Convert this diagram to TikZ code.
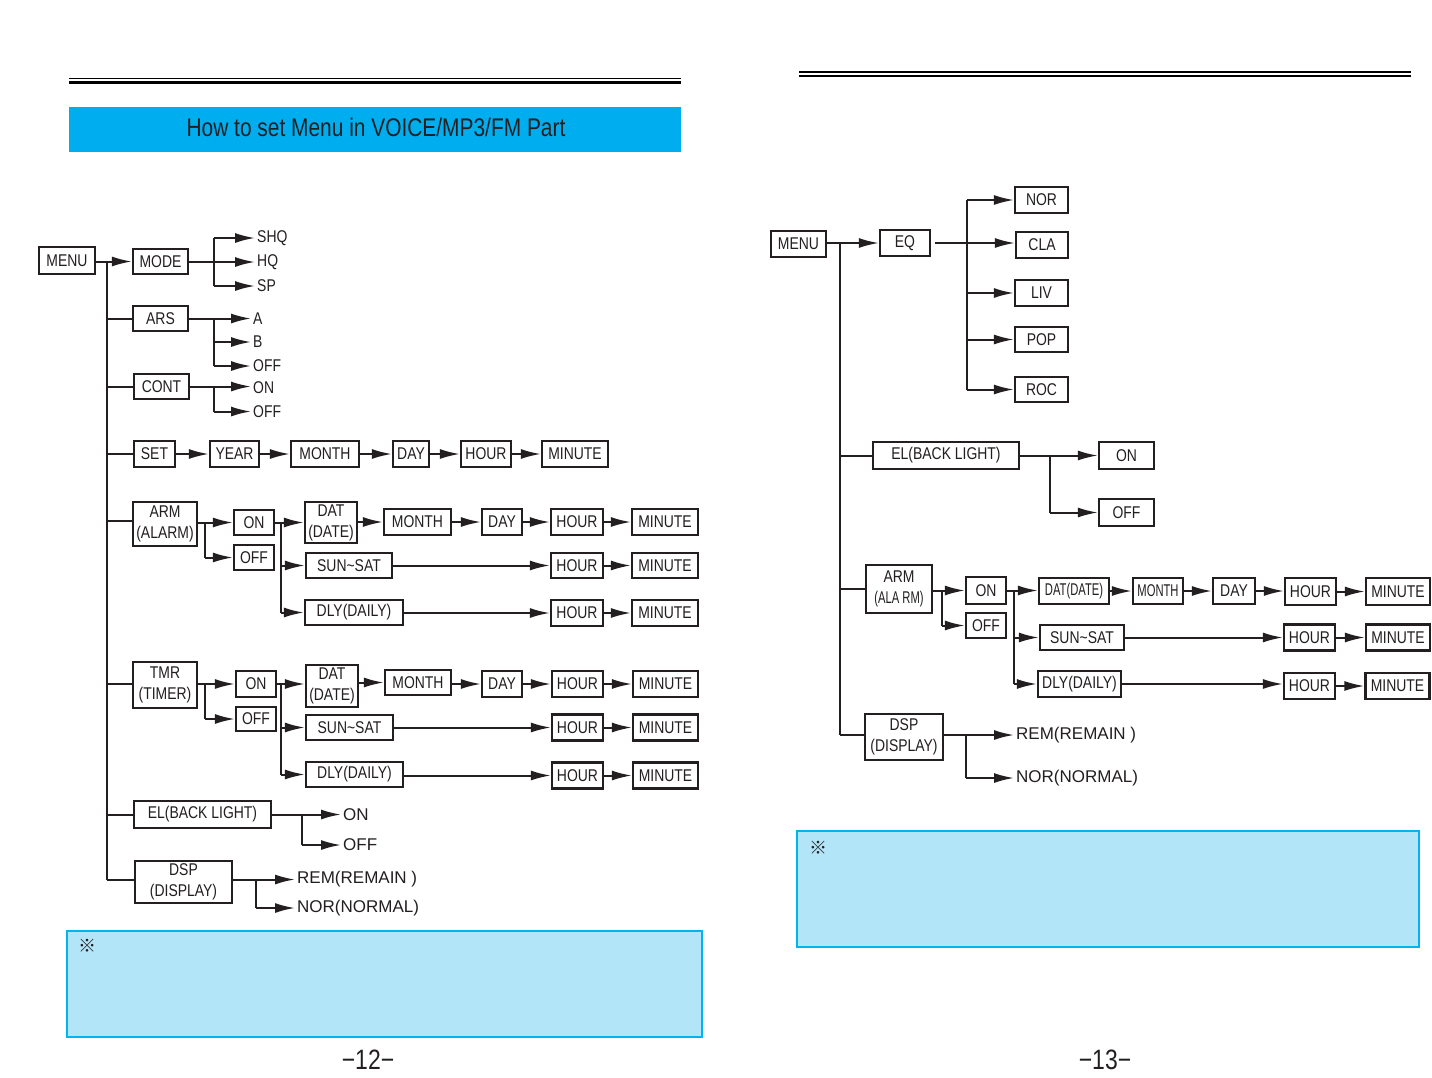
\documentclass[tikz,border=0pt]{standalone}
\usepackage{fontspec}
\setmainfont[FakeStretch=0.82]{Liberation Sans}
\newfontfamily\narrowf[FakeStretch=0.66]{Liberation Sans}
\newfontfamily\widef[FakeStretch=1.0]{Liberation Sans}
\newfontfamily\cjk{Noto Sans CJK SC}
\usetikzlibrary{arrows.meta}
\definecolor{banner}{HTML}{00AEEF}
\definecolor{notefill}{HTML}{B3E5F9}
\definecolor{noteline}{HTML}{00B4F0}
\definecolor{ink}{HTML}{231F20}
\begin{document}
\begin{tikzpicture}[x=1pt,y=-1pt,
  bx/.style={draw=ink, line width=2.2pt, inner sep=0pt, text=ink, font=\fontsize{17}{21}\selectfont, align=center, minimum height=26pt},
  nbx/.style={bx, font=\narrowf\fontsize{17}{21}\selectfont},
  lbl/.style={anchor=west, inner sep=2pt, text=ink, font=\fontsize{17}{21}\selectfont},
  wlbl/.style={lbl, font=\widef\fontsize{17}{21}\selectfont},
  ln/.style={draw=ink, line width=2pt},
  arr/.style={ln, -{Latex[length=20pt,width=10pt]}},
  rule/.style={draw=black}
]
\useasboundingbox[fill=white] (0,0) rectangle (1432,1077);

% ---------- header rules ----------
\draw[rule, line width=1.2pt] (69,78.3) -- (681,78.3);
\draw[rule, line width=2.6pt] (69,82.5) -- (681,82.5);
\draw[rule, line width=1.2pt] (799,72) -- (1411,72);
\draw[rule, line width=2.6pt] (799,76) -- (1411,76);

% banner
\node[fill=banner, minimum width=612pt, minimum height=45pt, inner sep=0pt] (banner) at (375,129.5) {};
\node[inner sep=0pt, font=\fontsize{25.5}{27}\selectfont, text=ink] (title) at (376,127)
      {How to set Menu in VOICE/MP3/FM Part};

% ================= LEFT PAGE =================
\node[bx, minimum width=56pt, minimum height=27pt] (menuL) at (67,260.5) {MENU};
\coordinate (trunkL) at (107,261);
\coordinate (trunkLb) at (107,880);
\draw[ln] (trunkL) -- (trunkLb);

\node[bx, minimum width=55pt, minimum height=25pt] (modeL) at (160.5,261.5) {MODE};
\draw[arr] (menuL.east |- modeL.west) -- (modeL.west);
\node[lbl] (shq) at (255,238) {SHQ};
\node[lbl] (hq)  at (255,262) {HQ};
\node[lbl] (sp)  at (255,286) {SP};
\coordinate (jm) at (214,261.5);
\draw[ln] (modeL.east) -- (jm);
\draw[ln] (jm |- shq) -- (jm |- sp);
\draw[arr] (jm |- shq) -- (shq.west);
\draw[arr] (jm |- hq) -- (hq.west);
\draw[arr] (jm |- sp) -- (sp.west);

\node[bx, minimum width=55pt, minimum height=25pt] (arsL) at (160.5,318.5) {ARS};
\draw[ln] (arsL.west -| trunkL) -- (arsL.west);
\node[lbl] (ra) at (251,318.5) {A};
\node[lbl] (rb) at (251,342) {B};
\node[lbl] (roff) at (251,366) {OFF};
\coordinate (jr) at (214,318.5);
\draw[ln] (arsL.east) -- (jr);
\draw[ln] (jr) -- (jr |- roff);
\draw[arr] (jr) -- (ra.west);
\draw[arr] (jr |- rb) -- (rb.west);
\draw[arr] (jr |- roff) -- (roff.west);

\node[bx, minimum width=55pt, minimum height=25pt] (contL) at (161.5,386.5) {CONT};
\draw[ln] (contL.west -| trunkL) -- (contL.west);
\node[lbl] (con) at (251,387.5) {ON};
\node[lbl] (coff) at (251,411.5) {OFF};
\coordinate (jc) at (214,386.5);
\draw[ln] (contL.east) -- (jc);
\draw[ln] (jc) -- (jc |- coff);
\draw[arr] (jc) -- (con.west |- jc);
\draw[arr] (jc |- coff) -- (coff.west);

% SET row
\node[bx, minimum width=41pt] (setL) at (154.5,454) {SET};
\node[bx, minimum width=49pt] (yearL) at (234.5,454) {YEAR};
\node[bx, minimum width=68pt] (monthL) at (325,454) {MONTH};
\node[bx, minimum width=36pt] (dayL) at (411,454) {DAY};
\node[bx, minimum width=50pt] (hourL) at (486,454) {HOUR};
\node[bx, minimum width=66pt] (minL) at (575,454) {MINUTE};
\draw[ln] (setL.west -| trunkL) -- (setL.west);
\draw[arr] (setL) -- (yearL);
\draw[arr] (yearL) -- (monthL);
\draw[arr] (monthL) -- (dayL);
\draw[arr] (dayL) -- (hourL);
\draw[arr] (hourL) -- (minL);

% ARM block
\node[bx, minimum width=64pt, minimum height=44pt] (armL) at (165,524) {ARM\\(ALARM)};
\draw[ln] (107,521) -- (armL.west |- 0,521);
\node[bx, minimum width=40pt, minimum height=25pt] (aonL) at (254,522.5) {ON};
\node[bx, minimum width=40pt, minimum height=25pt] (aoffL) at (254,557.5) {OFF};
\coordinate (jaL) at (205,522.5);
\draw[arr] (armL.east |- aonL.west) -- (aonL.west);
\draw[ln] (jaL) -- (jaL |- aoffL);
\draw[arr] (jaL |- aoffL) -- (aoffL.west);

\node[bx, minimum width=52pt, minimum height=41pt] (adatL) at (331,522.5) {DAT\\(DATE)};
\node[bx, minimum width=67pt] (amonL) at (417.5,522) {MONTH};
\node[bx, minimum width=40pt] (adayL) at (502,522) {DAY};
\node[bx, minimum width=52pt] (ahourL) at (577,522) {HOUR};
\node[bx, minimum width=66pt] (aminL) at (665,522) {MINUTE};
\node[bx, minimum width=86pt, minimum height=25pt] (asunL) at (349,565.5) {SUN\textasciitilde SAT};
\node[bx, minimum width=52pt, minimum height=25pt] (ahour2L) at (577,565.5) {HOUR};
\node[bx, minimum width=66pt, minimum height=25pt] (amin2L) at (665,565.5) {MINUTE};
\node[bx, minimum width=98pt, minimum height=25pt] (adlyL) at (354,612.5) {DLY(DAILY)};
\node[bx, minimum width=52pt] (ahour3L) at (577,613) {HOUR};
\node[bx, minimum width=66pt] (amin3L) at (665,613) {MINUTE};
\coordinate (jbL) at (281,522.5);
\draw[ln] (aonL.east) -- (jbL);
\draw[ln] (jbL) -- (jbL |- adlyL);
\draw[arr] (jbL) -- (adatL.west |- jbL);
\draw[arr] (jbL |- asunL) -- (asunL.west);
\draw[arr] (jbL |- adlyL) -- (adlyL.west);
\draw[arr] (adatL.east |- amonL) -- (amonL.west);
\draw[arr] (amonL) -- (adayL);
\draw[arr] (adayL) -- (ahourL);
\draw[arr] (ahourL) -- (aminL);
\draw[arr] (asunL) -- (ahour2L);
\draw[arr] (ahour2L) -- (amin2L);
\draw[arr] (adlyL.east |- ahour3L) -- (ahour3L.west);
\draw[arr] (ahour3L) -- (amin3L);

% TMR block
\node[bx, minimum width=64pt, minimum height=46pt] (tmrL) at (165,685) {TMR\\(TIMER)};
\draw[ln] (107,684) -- (tmrL.west |- 0,684);
\node[bx, minimum width=40pt] (tonL) at (256,684) {ON};
\node[bx, minimum width=40pt, minimum height=24pt] (toffL) at (256,719) {OFF};
\coordinate (jtL) at (205,684);
\draw[arr] (tmrL.east |- tonL.west) -- (tonL.west);
\draw[ln] (jtL) -- (jtL |- toffL);
\draw[arr] (jtL |- toffL) -- (toffL.west);

\node[bx, minimum width=52pt, minimum height=42pt] (tdatL) at (332,686) {DAT\\(DATE)};
\node[bx, minimum width=66pt, minimum height=25pt] (tmonL) at (418,682.5) {MONTH};
\node[bx, minimum width=40pt] (tdayL) at (502,684) {DAY};
\node[bx, minimum width=51pt] (thourL) at (577.5,684) {HOUR};
\node[bx, minimum width=65pt] (tminL) at (665.5,684) {MINUTE};
\node[bx, minimum width=87pt, minimum height=25pt] (tsunL) at (349.5,727.5) {SUN\textasciitilde SAT};
\node[bx, minimum width=51pt] (thour2L) at (577.5,727.5) {HOUR};
\node[bx, minimum width=65pt] (tmin2L) at (665.5,727.5) {MINUTE};
\node[bx, minimum width=97pt, minimum height=25pt] (tdlyL) at (354.5,774.5) {DLY(DAILY)};
\node[bx, minimum width=51pt] (thour3L) at (577.5,775.5) {HOUR};
\node[bx, minimum width=65pt] (tmin3L) at (665.5,775.5) {MINUTE};
\coordinate (jt2L) at (281,684);
\draw[ln] (tonL.east) -- (jt2L);
\draw[ln] (jt2L) -- (jt2L |- tdlyL);
\draw[arr] (jt2L) -- (tdatL.west |- jt2L);
\draw[arr] (jt2L |- tsunL) -- (tsunL.west);
\draw[arr] (jt2L |- tdlyL) -- (tdlyL.west);
\draw[arr] (tdatL.east |- tmonL) -- (tmonL.west);
\draw[arr] (tmonL.east |- tdayL) -- (tdayL.west);
\draw[arr] (tdayL) -- (thourL);
\draw[arr] (thourL) -- (tminL);
\draw[arr] (tsunL) -- (thour2L);
\draw[arr] (thour2L) -- (tmin2L);
\draw[arr] (tdlyL.east |- thour3L) -- (thour3L.west);
\draw[arr] (thour3L) -- (tmin3L);

% EL
\node[bx, minimum width=137pt, minimum height=27pt] (elL) at (202.5,814.5) {EL(BACK LIGHT)};
\draw[ln] (elL.west -| trunkL) -- (elL.west);
\node[wlbl] (elonL) at (341,815) {ON};
\node[wlbl] (eloffL) at (341,845) {OFF};
\coordinate (jeL) at (302,814.5);
\draw[ln] (elL.east) -- (jeL);
\draw[ln] (jeL) -- (jeL |- eloffL);
\draw[arr] (jeL) -- (elonL.west |- jeL);
\draw[arr] (jeL |- eloffL) -- (eloffL.west);

% DSP
\node[bx, minimum width=97pt, minimum height=42pt] (dspL) at (183.5,882) {DSP\\(DISPLAY)};
\draw[ln] (trunkLb) -- (dspL.west |- trunkLb);
\node[wlbl] (remL) at (295,879) {REM(REMAIN )};
\node[wlbl] (norL) at (295,908) {NOR(NORMAL)};
\coordinate (jdL) at (256,879.5);
\draw[ln] (dspL.east |- jdL) -- (jdL);
\draw[ln] (jdL) -- (jdL |- norL);
\draw[arr] (jdL) -- (remL.west |- jdL);
\draw[arr] (jdL |- norL) -- (norL.west);

% note box
\node[draw=noteline, fill=notefill, line width=2pt, minimum width=635pt, minimum height=106pt, inner sep=0pt] (noteL) at (384.5,984) {};
\node[anchor=north west, inner sep=0pt, font=\cjk\fontsize{18}{19}\selectfont, text=ink] (markL) at (78,939) {※};
\node[font=\fontsize{28}{30}\selectfont, text=ink] (pgL) at (368,1060) {−12−};

% ================= RIGHT PAGE =================
\node[bx, minimum width=55pt] (menuR) at (798.5,244) {MENU};
\node[bx, minimum width=50pt] (eqR) at (905,243) {EQ};
\draw[arr] (menuR.east |- eqR.west) -- (eqR.west);
\coordinate (trunkR) at (840,243);
\coordinate (trunkRb) at (840,735);
\draw[ln] (trunkR) -- (trunkRb);

\node[bx, minimum width=53pt] (norR) at (1041.5,200) {NOR};
\node[bx, minimum width=52pt] (claR) at (1042,245) {CLA};
\node[bx, minimum width=53pt] (livR) at (1041.5,293) {LIV};
\node[bx, minimum width=53pt, minimum height=25pt] (popR) at (1041.5,339.5) {POP};
\node[bx, minimum width=53pt, minimum height=25pt] (rocR) at (1041.5,389.5) {ROC};
\coordinate (jeq) at (967,243);
\draw[arr] (eqR.east) ++(4,0) -- (claR.west |- eqR.east);
\draw[ln] (jeq |- norR) -- (jeq |- rocR);
\draw[arr] (jeq |- norR) -- (norR.west);
\draw[arr] (jeq |- livR) -- (livR.west);
\draw[arr] (jeq |- popR) -- (popR.west);
\draw[arr] (jeq |- rocR) -- (rocR.west);

% EL right
\node[bx, minimum width=146pt, minimum height=27pt] (elR) at (946,455.5) {EL(BACK LIGHT)};
\draw[ln] (elR.west -| trunkR) -- (elR.west);
\node[bx, minimum width=55pt, minimum height=27pt] (elonR) at (1126.5,455.5) {ON};
\node[bx, minimum width=55pt, minimum height=27pt] (eloffR) at (1126.5,512.5) {OFF};
\coordinate (jelR) at (1050,455.5);
\draw[arr] (elR) -- (elonR);
\draw[ln] (jelR) -- (jelR |- eloffR);
\draw[arr] (jelR |- eloffR) -- (eloffR.west);

% ARM right
\node[bx, minimum width=66pt, minimum height=48pt] (armR) at (899,589) {ARM\\{\narrowf(ALA RM)}};
\draw[ln] (armR.west -| trunkR) -- (armR.west);
\node[bx, minimum width=40pt, minimum height=27pt] (onR) at (986,590.5) {ON};
\node[bx, minimum width=40pt, minimum height=25pt] (offR) at (986,625.5) {OFF};
\coordinate (jaR) at (942,590.5);
\draw[arr] (armR.east |- onR.west) -- (onR.west);
\draw[ln] (jaR) -- (jaR |- offR);
\draw[arr] (jaR |- offR) -- (offR.west);

\node[nbx, minimum width=70pt] (datR) at (1074,591) {DAT(DATE)};
\node[nbx, minimum width=50pt] (monR) at (1158,591) {MONTH};
\node[bx, minimum width=42pt] (dayR) at (1234,591) {DAY};
\node[bx, minimum width=51pt, minimum height=27pt] (hourR) at (1310.5,591.5) {HOUR};
\node[bx, minimum width=64pt, minimum height=27pt] (minR) at (1398,591.5) {MINUTE};
\node[bx, minimum width=84pt, minimum height=25pt] (sunR) at (1082,637.5) {SUN\textasciitilde SAT};
\node[bx, minimum width=51pt] (hour2R) at (1309.5,637.5) {HOUR};
\node[bx, minimum width=64pt] (min2R) at (1398,637.5) {MINUTE};
\node[bx, minimum width=83pt] (dlyR) at (1079.5,684) {DLY(DAILY)};
\node[bx, minimum width=51pt] (hour3R) at (1309.5,686) {HOUR};
\node[bx, minimum width=64pt] (min3R) at (1397.5,686) {MINUTE};
\coordinate (jbR) at (1014,590.5);
\draw[ln] (onR.east) -- (jbR);
\draw[ln] (jbR) -- (jbR |- dlyR);
\draw[arr] (jbR) -- (datR.west |- jbR);
\draw[arr] (jbR |- sunR) -- (sunR.west);
\draw[arr] (jbR |- dlyR) -- (dlyR.west);
\draw[arr] (datR) -- (monR);
\draw[arr] (monR) -- (dayR);
\draw[arr] (dayR) -- (hourR.west |- dayR);
\draw[arr] (hourR) -- (minR);
\draw[arr] (sunR) -- (hour2R);
\draw[arr] (hour2R) -- (min2R);
\draw[arr] (dlyR.east) -- (hour3R.west |- dlyR.east);
\draw[arr] (hour3R) -- (min3R);

% DSP right
\node[bx, minimum width=78pt, minimum height=46pt] (dspR) at (904,737) {DSP\\(DISPLAY)};
\draw[ln] (trunkRb) -- (dspR.west |- trunkRb);
\node[wlbl] (remR) at (1014,735) {REM(REMAIN )};
\node[wlbl] (norR2) at (1014,778) {NOR(NORMAL)};
\coordinate (jdR) at (966,735);
\draw[ln] (dspR.east |- jdR) -- (jdR);
\draw[ln] (jdR) -- (jdR |- norR2);
\draw[arr] (jdR) -- (remR.west |- jdR);
\draw[arr] (jdR |- norR2) -- (norR2.west);

% note box right
\node[draw=noteline, fill=notefill, line width=2pt, minimum width=622pt, minimum height=116pt, inner sep=0pt] (noteR) at (1108,889) {};
\node[anchor=north west, inner sep=0pt, font=\cjk\fontsize{18}{19}\selectfont, text=ink] (markR) at (809,841) {※};
\node[font=\fontsize{28}{30}\selectfont, text=ink] (pgR) at (1105,1060) {−13−};
\end{tikzpicture}
\end{document}
